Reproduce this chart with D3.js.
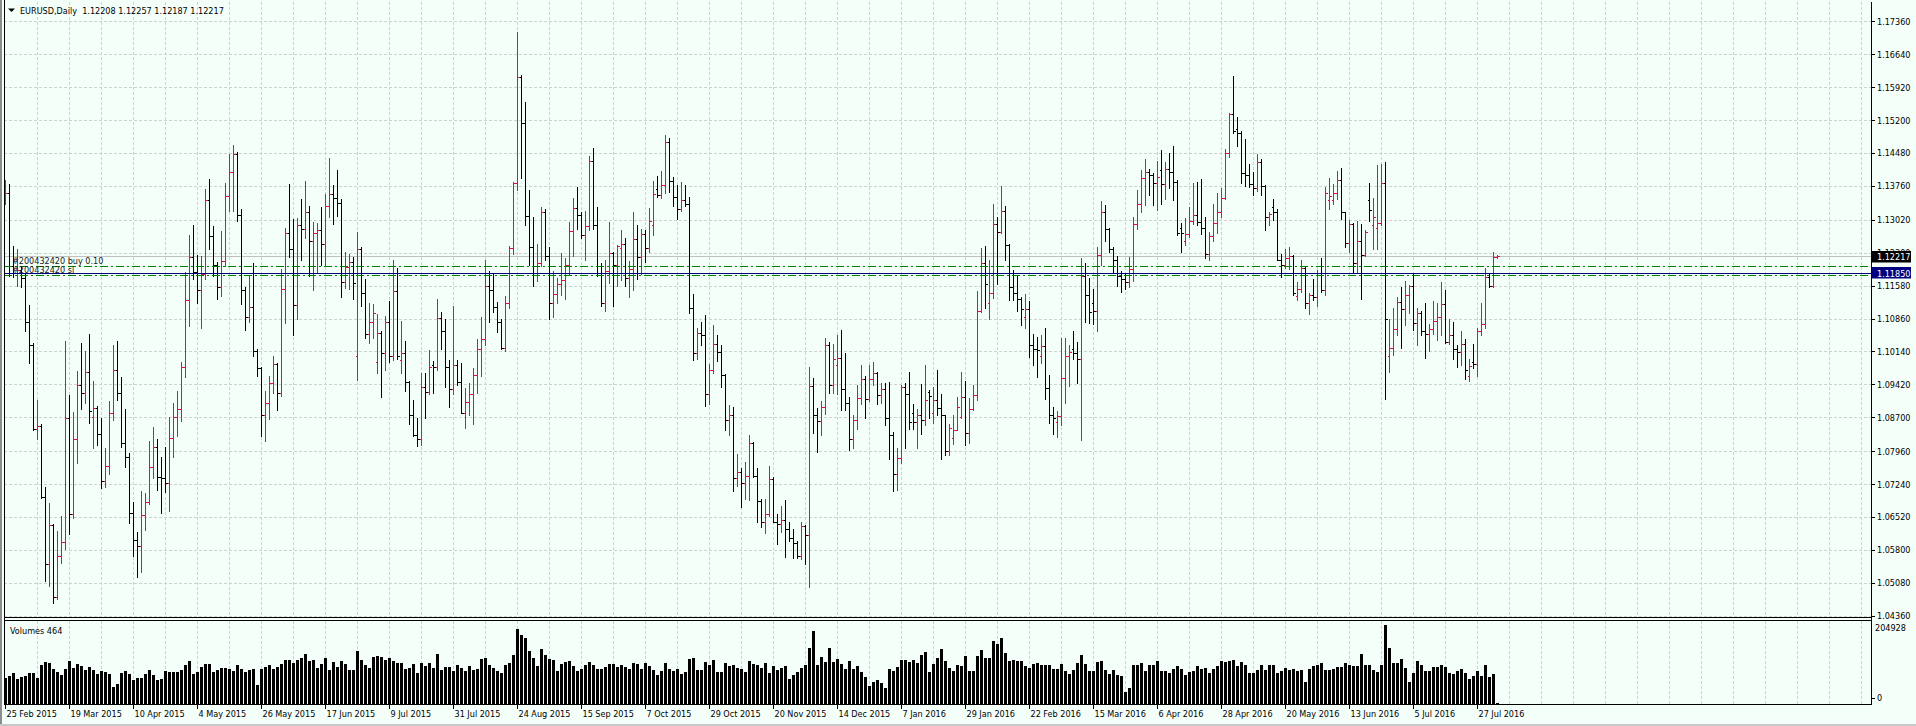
<!DOCTYPE html>
<html>
<head>
<meta charset="utf-8">
<title>EURUSD,Daily</title>
<style>
    html, body { margin: 0; padding: 0; background: #f5fffa; overflow: hidden; }
    svg { display: block; }
    text { font-family: "DejaVu Sans Condensed", "DejaVu Sans", sans-serif; font-stretch: condensed; font-size: 9px; fill: #000; }
</style>
<script src="https://cdn.jsdelivr.net/npm/d3@7"></script>
</head>
<body>
<div id="chart"></div>
<script>
// Daily bars, 25 Feb 2015 .. 3 Aug 2016 (one entry per bar)
var opens = [
    1.1345,1.1360,1.1200,1.1185,1.1192,1.1174,1.1078,1.1028,1.0844,1.0851,
    1.0696,1.0548,1.0634,1.0476,1.0567,1.0598,1.0868,1.0658,1.0822,1.0940,
    1.0924,1.0970,1.0870,1.0890,1.0833,1.0731,1.0763,1.0879,1.0973,1.0922,
    1.0814,1.0782,1.0660,1.0602,1.0589,1.0656,1.0684,1.0762,1.0806,1.0740,
    1.0737,1.0726,1.0824,1.0870,1.0887,1.0979,1.1127,1.1220,1.1188,1.1148,
    1.1183,1.1345,1.1266,1.1204,1.1154,1.1211,1.1354,1.1407,1.1445,1.1312,
    1.1148,1.1089,1.1111,1.1014,1.0977,1.0874,1.0902,1.0945,1.0987,1.0922,
    1.1151,1.1272,1.1239,1.1115,1.1290,1.1282,1.1320,1.1256,1.1272,1.1280,
    1.1249,1.1333,1.1358,1.1350,1.1339,1.1165,1.1199,1.1210,1.1005,1.1237,
    1.1141,1.1053,1.1079,1.0990,1.1055,1.1011,1.1078,1.1003,1.1146,1.0995,
    1.1010,1.0947,1.0874,1.0831,1.0823,1.0936,1.0925,1.0985,1.0979,1.1087,
    1.1058,1.0981,1.0931,1.0984,1.0947,1.0880,1.0904,1.0921,1.0962,1.1019,
    1.1041,1.1156,1.1148,1.1111,1.1079,1.1022,1.1119,1.1240,1.1383,1.1615,
    1.1513,1.1311,1.1242,1.1186,1.1208,1.1318,1.1223,1.1120,1.1140,1.1161,
    1.1170,1.1204,1.1277,1.1328,1.1313,1.1268,1.1288,1.1431,1.1290,1.1186,
    1.1119,1.1190,1.1229,1.1204,1.1240,1.1250,1.1175,1.1194,1.1260,1.1220,
    1.1270,1.1240,1.1290,1.1370,1.1357,1.1378,1.1471,1.1387,1.1352,1.1325,
    1.1345,1.1337,1.1108,1.1010,1.1055,1.1050,1.0921,1.0974,1.1030,1.1012,
    1.0962,1.0864,1.0875,1.0737,1.0751,1.0726,1.0742,1.0814,1.0742,1.0687,
    1.0640,1.0659,1.0735,1.0642,1.0637,1.0645,1.0625,1.0606,1.0596,1.0566,
    1.0632,1.0613,1.0938,1.0874,1.0861,1.0893,1.1027,1.0941,1.0985,1.1000,
    1.0931,1.0902,1.0823,1.0864,1.0912,1.0953,1.0909,1.0953,1.0966,1.0919,
    1.0931,1.0869,1.0831,1.0747,1.0780,1.0936,1.0921,1.0880,1.0859,1.0874,
    1.0864,1.0925,1.0880,1.0907,1.0891,1.0874,1.0797,1.0825,1.0843,1.0870,
    1.0915,1.0836,1.0888,1.0919,1.1103,1.1208,1.1120,1.1141,1.1292,1.1275,
    1.1321,1.1247,1.1155,1.1141,1.1129,1.1090,1.1106,1.1027,1.1020,1.1005,
    1.1025,1.0935,1.0874,1.0860,1.0872,1.0955,1.1003,1.1020,1.1010,1.0998,
    1.1180,1.1137,1.1120,1.1103,1.1225,1.1318,1.1282,1.1237,1.1213,1.1180,
    1.1173,1.1165,1.1194,1.1292,1.1337,1.1393,1.1406,1.1400,1.1383,1.1410,
    1.1380,1.1414,1.1406,1.1385,1.1285,1.1255,1.1270,1.1299,1.1313,1.1297,
    1.1285,1.1227,1.1266,1.1294,1.1320,1.1349,1.1447,1.1533,1.1500,1.1492,
    1.1404,1.1400,1.1380,1.1371,1.1428,1.1376,1.1307,1.1330,1.1318,1.1215,
    1.1204,1.1218,1.1223,1.1135,1.1150,1.1196,1.1119,1.1137,1.1132,1.1186,
    1.1148,1.1345,1.1345,1.1360,1.1390,1.1318,1.1251,1.1292,1.1208,1.1255,
    1.1225,1.1345,1.1290,1.1285,1.1294,1.1383,1.1003,1.1022,1.1062,1.1122,
    1.1106,1.1138,1.1156,1.1076,1.1098,1.1058,1.1053,1.1062,1.1080,1.1089,
    1.1118,1.1035,1.1049,1.1020,1.1012,1.1030,1.0960,1.0990,1.0986,1.1058,
    1.1073,1.1177,1.1157,1.12208
];
var highs = [
    1.1389,1.1380,1.1245,1.1239,1.1200,1.1185,1.1116,1.1032,1.0908,1.0855,
    1.0717,1.0683,1.0637,1.0622,1.0653,1.1037,1.0919,1.0881,1.0971,1.1032,
    1.1015,1.1052,1.0949,1.0895,1.0868,1.0802,1.0906,1.1028,1.1037,1.0957,
    1.0889,1.0791,1.0685,1.0620,1.0709,1.0704,1.0819,1.0849,1.0823,1.0784,
    1.0804,1.0871,1.0901,1.0928,1.0990,1.1187,1.1268,1.1290,1.1225,1.1223,
    1.1369,1.1391,1.1288,1.1210,1.1277,1.1382,1.1445,1.1466,1.1450,1.1325,
    1.1154,1.1180,1.1207,1.1020,1.0979,1.0928,1.0960,1.1005,1.0989,1.1194,
    1.1285,1.1380,1.1304,1.1306,1.1347,1.1387,1.1333,1.1297,1.1294,1.1330,
    1.1358,1.1437,1.1378,1.1411,1.1347,1.1232,1.1227,1.1220,1.1275,1.1242,
    1.1172,1.1120,1.1118,1.1096,1.1058,1.1091,1.1124,1.1215,1.1196,1.1081,
    1.1036,1.0950,1.0907,1.0869,1.0966,1.0966,1.1017,1.0993,1.1129,1.1100,
    1.1084,1.0995,1.1113,1.0995,1.0989,1.0934,1.0944,1.0977,1.1041,1.1089,
    1.1215,1.1189,1.1186,1.1122,1.1085,1.1135,1.1244,1.1385,1.1712,1.1619,
    1.1559,1.1366,1.1309,1.1250,1.1330,1.1325,1.1242,1.1189,1.1175,1.1229,
    1.1218,1.1296,1.1350,1.1374,1.1318,1.1321,1.1441,1.1459,1.1330,1.1208,
    1.1215,1.1296,1.1232,1.1247,1.1280,1.1263,1.1211,1.1320,1.1290,1.1282,
    1.1280,1.1328,1.1387,1.1397,1.1409,1.1488,1.1480,1.1395,1.1378,1.1385,
    1.1378,1.1352,1.1139,1.1065,1.1079,1.1094,1.0986,1.1072,1.1051,1.1029,
    1.0965,1.0896,1.0893,1.0790,1.0759,1.0773,1.0831,1.0816,1.0759,1.0692,
    1.0692,1.0764,1.0740,1.0659,1.0675,1.0689,1.0640,1.0625,1.0600,1.0640,
    1.0635,1.0979,1.0955,1.0890,1.0905,1.1043,1.1035,1.1030,1.1049,1.1060,
    1.1010,1.0915,1.0874,1.0941,1.0984,1.0960,1.0984,1.0991,1.0969,1.0945,
    1.0945,1.0947,1.0838,1.0802,1.0941,1.0945,1.0969,1.0900,1.0888,1.0943,
    1.0984,1.0930,1.0936,1.0974,1.0921,1.0876,1.0855,1.0874,1.0915,1.0969,
    1.0950,1.0912,1.0941,1.1146,1.1240,1.1244,1.1215,1.1337,1.1309,1.1376,
    1.1333,1.1250,1.1191,1.1180,1.1132,1.1139,1.1124,1.1053,1.1046,1.1051,
    1.1065,1.0962,1.0893,1.0883,1.1043,1.1043,1.1027,1.1058,1.1034,1.1218,
    1.1208,1.1175,1.1151,1.1242,1.1342,1.1335,1.1285,1.1242,1.1223,1.1189,
    1.1184,1.1220,1.1307,1.1366,1.1411,1.1435,1.1414,1.1404,1.1431,1.1454,
    1.1428,1.1447,1.1463,1.1390,1.1294,1.1306,1.1330,1.1383,1.1385,1.1392,
    1.1307,1.1275,1.1337,1.1361,1.1371,1.1457,1.1535,1.1617,1.1526,1.1495,
    1.1479,1.1423,1.1406,1.1445,1.1435,1.1378,1.1320,1.1347,1.1325,1.1227,
    1.1237,1.1242,1.1225,1.1165,1.1215,1.1199,1.1141,1.1173,1.1192,1.1218,
    1.1374,1.1393,1.1380,1.1409,1.1416,1.1320,1.1301,1.1294,1.1299,1.1292,
    1.1280,1.1383,1.1349,1.1421,1.1423,1.1428,1.1084,1.1110,1.1134,1.1154,
    1.1168,1.1159,1.1184,1.1108,1.1103,1.1119,1.1075,1.1125,1.1119,1.1165,
    1.1148,1.1084,1.1079,1.1027,1.1058,1.1041,1.0998,1.1030,1.1065,1.1119,
    1.1196,1.1184,1.1232,1.12257
];
var lows = [
    1.1336,1.1178,1.1176,1.1158,1.1154,1.1059,1.0988,1.0842,1.0822,1.0693,
    1.0511,1.0500,1.0463,1.0472,1.0551,1.0581,1.0614,1.0649,1.0769,1.0889,
    1.0901,1.0857,1.0802,1.0809,1.0715,1.0718,1.0747,1.0863,1.0908,1.0804,
    1.0762,1.0638,1.0567,1.0521,1.0532,1.0624,1.0680,1.0737,1.0711,1.0660,
    1.0707,1.0666,1.0784,1.0830,1.0861,1.0958,1.1070,1.1173,1.1119,1.1065,
    1.1172,1.1237,1.1178,1.1129,1.1135,1.1201,1.1321,1.1321,1.1299,1.1118,
    1.1060,1.1079,1.1003,1.0960,1.0829,1.0818,1.0867,1.0924,1.0886,1.0917,
    1.1077,1.1221,1.1049,1.1084,1.1213,1.1261,1.1180,1.1149,1.1186,1.1204,
    1.1204,1.1309,1.1292,1.1311,1.1134,1.1153,1.1151,1.1129,1.0952,1.1113,
    1.1043,1.1032,1.1043,1.0967,1.0915,1.0974,1.0990,1.0995,1.0998,1.0966,
    1.0928,1.0855,1.0829,1.0807,1.0810,1.0869,1.0921,1.0924,1.0974,1.1020,
    1.0936,1.0893,1.0920,1.0941,1.0879,1.0847,1.0874,1.0855,1.0924,1.0960,
    1.1027,1.1079,1.1100,1.1057,1.1020,1.1015,1.1110,1.1227,1.1368,1.1393,
    1.1290,1.1204,1.1156,1.1167,1.1200,1.1215,1.1086,1.1089,1.1120,1.1137,
    1.1129,1.1184,1.1223,1.1282,1.1261,1.1213,1.1280,1.1282,1.1180,1.1113,
    1.1103,1.1163,1.1113,1.1156,1.1170,1.1156,1.1132,1.1148,1.1173,1.1183,
    1.1210,1.1232,1.1268,1.1352,1.1350,1.1361,1.1363,1.1333,1.1304,1.1321,
    1.1331,1.1098,1.0996,1.0998,1.1029,1.0895,1.0900,1.0966,1.0993,1.0936,
    1.0842,1.0831,1.0708,1.0719,1.0673,1.0692,1.0689,1.0740,1.0640,1.0630,
    1.0616,1.0654,1.0640,1.0592,1.0620,1.0565,1.0599,1.0563,1.0563,1.0561,
    1.0549,1.0498,1.0836,1.0794,1.0831,1.0877,1.0924,1.0924,1.0921,1.0886,
    1.0886,1.0799,1.0802,1.0845,1.0900,1.0869,1.0905,1.0941,1.0900,1.0902,
    1.0852,1.0778,1.0708,1.0711,1.0769,1.0802,1.0845,1.0845,1.0802,1.0833,
    1.0852,1.0869,1.0857,1.0874,1.0778,1.0788,1.0788,1.0812,1.0842,1.0869,
    1.0810,1.0814,1.0885,1.0907,1.1100,1.1108,1.1086,1.1130,1.1161,1.1272,
    1.1213,1.1127,1.1127,1.1103,1.1072,1.1065,1.1001,1.0984,1.0957,1.0989,
    1.0909,1.0857,1.0833,1.0826,1.0852,1.0902,1.0938,1.0998,1.0945,1.0821,
    1.1079,1.1077,1.1075,1.1058,1.1204,1.1256,1.1232,1.1186,1.1158,1.1144,
    1.1151,1.1154,1.1167,1.1282,1.1318,1.1335,1.1357,1.1335,1.1323,1.1337,
    1.1347,1.1371,1.1345,1.1268,1.1232,1.1247,1.1265,1.1292,1.1290,1.1270,
    1.1218,1.1215,1.1256,1.1272,1.1307,1.1347,1.1440,1.1492,1.1463,1.1383,
    1.1376,1.1374,1.1357,1.1365,1.1357,1.1280,1.1290,1.1301,1.1213,1.1177,
    1.1196,1.1194,1.1137,1.1127,1.1145,1.1110,1.1096,1.1127,1.1113,1.1144,
    1.1137,1.1326,1.1337,1.1347,1.1304,1.1242,1.1232,1.1186,1.1186,1.1129,
    1.1223,1.1299,1.1237,1.1237,1.1290,1.0909,1.0969,1.1007,1.1049,1.1022,
    1.1072,1.1098,1.1060,1.1029,1.1051,1.1000,1.1014,1.1053,1.1039,1.1051,
    1.1033,1.1030,1.0998,1.0979,1.0984,1.0953,1.0950,1.0977,1.0960,1.1050,
    1.1065,1.1154,1.1154,1.12187
];
var closes = [
    1.1360,1.1200,1.1185,1.1192,1.1174,1.1078,1.1028,1.0844,1.0851,1.0696,
    1.0548,1.0634,1.0476,1.0567,1.0598,1.0868,1.0658,1.0822,1.0940,1.0924,
    1.0970,1.0884,1.0890,1.0833,1.0731,1.0763,1.0879,1.0973,1.0922,1.0814,
    1.0782,1.0660,1.0602,1.0589,1.0656,1.0684,1.0762,1.0806,1.0740,1.0737,
    1.0726,1.0824,1.0870,1.0887,1.0979,1.1127,1.1220,1.1188,1.1148,1.1183,
    1.1345,1.1266,1.1204,1.1154,1.1211,1.1354,1.1407,1.1445,1.1312,1.1148,
    1.1089,1.1111,1.1014,1.0977,1.0874,1.0902,1.0945,1.0987,1.0922,1.1151,
    1.1272,1.1239,1.1115,1.1290,1.1282,1.1320,1.1256,1.1272,1.1280,1.1249,
    1.1333,1.1358,1.1350,1.1339,1.1165,1.1199,1.1210,1.1163,1.1237,1.1141,
    1.1053,1.1079,1.1097,1.1055,1.1011,1.1078,1.1003,1.1146,1.1005,1.1010,
    1.0947,1.0874,1.0831,1.0823,1.0936,1.0925,1.0981,1.0979,1.1087,1.1058,
    1.0981,1.0931,1.0984,1.0947,1.0880,1.0904,1.0921,1.0962,1.1019,1.1041,
    1.1156,1.1148,1.1111,1.1079,1.1022,1.1119,1.1240,1.1383,1.1615,1.1513,
    1.1311,1.1242,1.1186,1.1208,1.1318,1.1223,1.1120,1.1140,1.1161,1.1170,
    1.1204,1.1277,1.1328,1.1313,1.1268,1.1288,1.1431,1.1290,1.1186,1.1119,
    1.1190,1.1229,1.1204,1.1244,1.1250,1.1175,1.1194,1.1260,1.1220,1.1270,
    1.1240,1.1300,1.1358,1.1357,1.1378,1.1471,1.1387,1.1352,1.1325,1.1345,
    1.1337,1.1108,1.1010,1.1055,1.1050,1.0921,1.0974,1.1030,1.1012,1.0962,
    1.0864,1.0875,1.0737,1.0751,1.0726,1.0742,1.0814,1.0742,1.0687,1.0640,
    1.0659,1.0735,1.0642,1.0637,1.0645,1.0625,1.0606,1.0596,1.0566,1.0632,
    1.0613,1.0938,1.0874,1.0861,1.0893,1.1027,1.0941,1.0998,1.1000,1.0931,
    1.0902,1.0823,1.0864,1.0912,1.0953,1.0909,1.0953,1.0966,1.0919,1.0931,
    1.0869,1.0831,1.0747,1.0780,1.0936,1.0921,1.0859,1.0859,1.0874,1.0864,
    1.0907,1.0917,1.0907,1.0891,1.0874,1.0797,1.0847,1.0843,1.0893,1.0915,
    1.0836,1.0888,1.0919,1.1103,1.1208,1.1161,1.1141,1.1292,1.1275,1.1321,
    1.1247,1.1155,1.1141,1.1129,1.1106,1.1106,1.1027,1.1020,1.1017,1.1025,
    1.0935,1.0874,1.0869,1.0872,1.0955,1.1003,1.1012,1.1010,1.0998,1.1180,
    1.1137,1.1100,1.1103,1.1225,1.1318,1.1282,1.1237,1.1213,1.1180,1.1173,
    1.1165,1.1194,1.1292,1.1337,1.1393,1.1406,1.1400,1.1383,1.1395,1.1380,
    1.1414,1.1406,1.1385,1.1272,1.1272,1.1270,1.1299,1.1313,1.1297,1.1285,
    1.1227,1.1266,1.1294,1.1320,1.1349,1.1447,1.1533,1.1495,1.1492,1.1404,
    1.1400,1.1380,1.1371,1.1428,1.1376,1.1307,1.1315,1.1318,1.1215,1.1204,
    1.1218,1.1223,1.1141,1.1150,1.1196,1.1119,1.1137,1.1132,1.1186,1.1148,
    1.1361,1.1355,1.1360,1.1390,1.1318,1.1251,1.1292,1.1208,1.1255,1.1225,
    1.1275,1.1323,1.1309,1.1294,1.1383,1.1086,1.1022,1.1062,1.1122,1.1106,
    1.1138,1.1156,1.1076,1.1098,1.1058,1.1053,1.1062,1.1080,1.1089,1.1118,
    1.1035,1.1049,1.1020,1.1012,1.1030,1.0974,1.0982,1.0986,1.1058,1.1073,
    1.1177,1.1157,1.1221,1.12217
];
// tick volume per bar
var volumes = [
    67100,71400,80100,63600,69700,71400,78400,78400,66200,100100,
    107100,104500,89700,81000,74000,89700,110500,93200,102700,98400,
    87100,94900,86200,76600,83600,81000,75800,42800,50600,80100,
    84500,75800,61000,66200,66200,75800,87100,74000,61900,62700,
    83600,81900,81900,82000,87700,101300,110400,76300,83100,95600,
    103600,103600,83100,87700,93400,93400,89900,85400,101300,89900,
    83100,87700,89900,49000,89900,95600,99000,89900,95600,103600,
    112700,112700,105900,112700,118400,128700,110400,112700,92200,102500,
    119500,87700,108200,94500,110400,102500,87700,87700,137800,113900,
    101300,92200,120000,124000,122000,114000,118000,111000,104700,104700,
    91100,92200,102500,78600,104700,98000,104700,92200,129800,87700,
    94500,94500,85400,99000,92200,85400,96800,87700,91100,116100,
    119500,101300,92200,85400,79700,99000,104700,125200,193500,178700,
    170800,136600,119500,96800,142300,125200,116100,113900,85400,102500,
    108200,111600,96800,85400,88800,99000,108200,99000,91100,91100,
    94500,103600,103600,94500,101300,94500,89900,104700,102500,91100,
    104700,98000,87700,73000,85400,105900,91100,85400,89900,76300,
    82000,115000,118000,87700,87700,109000,101300,113900,83100,83100,
    104700,98000,100000,92200,91100,81000,110000,102000,99000,92000,
    104700,80000,96800,87700,93400,97000,62600,73000,81000,93400,
    99000,144200,187800,99000,120600,107000,144200,107000,115000,103600,
    91100,110400,91100,97000,81000,68300,45000,56000,62000,53000,
    40000,91100,84000,94500,112700,112700,108200,112700,105900,127500,
    133200,83100,102500,119500,142300,110400,93400,85400,101300,96800,
    122900,85400,85400,124100,138900,117300,119500,161700,156000,170800,
    130900,111600,113900,110400,110400,96800,93400,102500,105900,99000,
    99000,99000,91100,88800,102500,85400,76300,87700,104700,127500,
    102500,85400,85400,108200,110400,87700,77500,87700,74000,70600,
    30700,39800,99000,99000,104700,85400,99000,99000,110400,85400,
    85400,79700,91100,96800,91100,74000,80800,85400,96800,88800,
    92200,79700,89900,96800,111600,108200,111600,113900,96800,108200,
    99000,79700,79700,87700,101300,87700,99000,101300,79700,85400,
    92200,87700,89900,85400,87700,56900,89900,96800,99000,104700,
    87700,87700,89900,94500,94500,105900,101300,96800,96800,128700,
    101300,101300,87700,83100,101300,204928,144600,105900,105900,116100,
    93400,56900,79700,111600,99000,85400,85400,94500,94500,101300,
    94500,79700,76300,85400,89900,78600,62600,70600,85400,70600,
    99000,68300,76300,464
];

// right price scale labels and bottom date labels (one every 16 bars)
var priceTicks = ['1.17360','1.16640','1.15920','1.15200','1.14480','1.13760','1.13020',
    '1.12300','1.11580','1.10860','1.10140','1.09420','1.08700','1.07960','1.07240',
    '1.06520','1.05800','1.05080','1.04360'];
var dateLabels = ['25 Feb 2015','19 Mar 2015','10 Apr 2015','4 May 2015','26 May 2015',
    '17 Jun 2015','9 Jul 2015','31 Jul 2015','24 Aug 2015','15 Sep 2015','7 Oct 2015',
    '29 Oct 2015','20 Nov 2015','14 Dec 2015','7 Jan 2016','29 Jan 2016','22 Feb 2016',
    '15 Mar 2016','6 Apr 2016','28 Apr 2016','20 May 2016','13 Jun 2016','5 Jul 2016',
    '27 Jul 2016'];

// horizontal levels
var bidPrice = 1.12217;
var orderPrice = 1.1201;
var stopPrice = 1.1181;
var levelPrice = 1.1185;
var volumeMax = 204928;
var lastVolume = 464;

var W = 1916, H = 726;
var left = 4, right = 1871;
var mainTop = 2, mainBottom = 617.5, volTop = 620.5, volBottom = 704.5;
var upColor = '#dc143c', downColor = '#000000';

var n = closes.length;
var idx = d3.range(n);

var x = d3.scaleLinear().domain([0, n - 1]).range([5.5, 5.5 + 4 * (n - 1)]);
var y = d3.scaleLinear().domain([1.0436, 1.1736]).range([615.7, 21.3]);
var vy = d3.scaleLinear().domain([0, volumeMax]).range([703.5, 624.8]);

var svg = d3.select('#chart').append('svg')
    .attr('width', W)
    .attr('height', H);

svg.append('rect')
    .attr('width', W)
    .attr('height', H)
    .attr('fill', '#f5fffa');

// grid
var grid = svg.append('g')
    .attr('stroke', '#d0d0d0')
    .attr('stroke-dasharray', '3,2')
    .attr('shape-rendering', 'crispEdges');

var gridIdx = d3.range(8, 600, 8).filter(function(i) { return x(i) < right; });

grid.selectAll('.vgrid-main')
    .data(gridIdx)
    .enter()
    .append('line')
    .attr('x1', function(i) { return x(i); })
    .attr('x2', function(i) { return x(i); })
    .attr('y1', mainTop)
    .attr('y2', mainBottom);

grid.selectAll('.vgrid-vol')
    .data(gridIdx)
    .enter()
    .append('line')
    .attr('x1', function(i) { return x(i); })
    .attr('x2', function(i) { return x(i); })
    .attr('y1', volTop)
    .attr('y2', volBottom);

grid.selectAll('.hgrid')
    .data(priceTicks)
    .enter()
    .append('line')
    .attr('x1', left)
    .attr('x2', right)
    .attr('y1', function(d) { return Math.round(y(+d)) + 0.5; })
    .attr('y2', function(d) { return Math.round(y(+d)) + 0.5; });

// bid line
svg.append('line')
    .attr('x1', left).attr('x2', right)
    .attr('y1', Math.round(y(bidPrice)) + 0.5)
    .attr('y2', Math.round(y(bidPrice)) + 0.5)
    .attr('stroke', '#c0c0c0')
    .attr('shape-rendering', 'crispEdges');

// OHLC bars
function barColor(i) {
    return closes[i] > opens[i] ? upColor : downColor;
}

var bars = svg.append('g').attr('shape-rendering', 'crispEdges');

bars.selectAll('.hl')
    .data(idx)
    .enter()
    .append('line')
    .attr('x1', function(i) { return x(i); })
    .attr('x2', function(i) { return x(i); })
    .attr('y1', function(i) { return Math.round(y(highs[i])); })
    .attr('y2', function(i) { return Math.round(y(lows[i])) + 1; })
    .attr('stroke', barColor);

bars.selectAll('.op')
    .data(idx)
    .enter()
    .append('rect')
    .attr('x', function(i) { return x(i) - 1.5; })
    .attr('y', function(i) { return Math.round(y(opens[i])); })
    .attr('width', 1)
    .attr('height', 1)
    .attr('fill', barColor);

bars.selectAll('.cl')
    .data(idx)
    .enter()
    .append('rect')
    .attr('x', function(i) { return x(i) + 0.5; })
    .attr('y', function(i) { return Math.round(y(closes[i])); })
    .attr('width', 2)
    .attr('height', 1)
    .attr('fill', barColor);

// volumes
svg.append('g')
    .attr('shape-rendering', 'crispEdges')
    .selectAll('rect')
    .data(idx)
    .enter()
    .append('rect')
    .attr('x', function(i) { return x(i) - 1.5; })
    .attr('y', function(i) { return vy(volumes[i]); })
    .attr('width', 3)
    .attr('height', function(i) { return Math.max(0.6, vy(0) - vy(volumes[i])); })
    .attr('fill', '#000');

// order lines and labels
function levelLine(price, color, dash) {
    svg.append('line')
        .attr('x1', left).attr('x2', right)
        .attr('y1', Math.round(y(price)) + 0.5)
        .attr('y2', Math.round(y(price)) + 0.5)
        .attr('stroke', color)
        .attr('stroke-dasharray', dash)
        .attr('shape-rendering', 'crispEdges');
}
levelLine(orderPrice, '#008000', '8,3,2,3');
levelLine(stopPrice, '#008000', '8,3,2,3');
levelLine(levelPrice, '#000080', null);

svg.append('text')
    .attr('x', 12)
    .attr('y', y(orderPrice) - 2)
    .style('fill', '#202020')
    .text('#200432420 buy 0.10');
svg.append('text')
    .attr('x', 12)
    .attr('y', y(stopPrice) - 2)
    .style('fill', '#202020')
    .text('#200432420 sl');

// frame
var frame = svg.append('g')
    .attr('stroke', '#000')
    .attr('shape-rendering', 'crispEdges');
frame.append('line').attr('x1', left + 0.5).attr('x2', left + 0.5).attr('y1', 0).attr('y2', volBottom);
frame.append('line').attr('x1', right + 0.5).attr('x2', right + 0.5).attr('y1', mainTop).attr('y2', volBottom);
frame.append('line').attr('x1', left).attr('x2', right).attr('y1', mainBottom).attr('y2', mainBottom);
frame.append('line').attr('x1', left).attr('x2', right).attr('y1', volTop).attr('y2', volTop);
frame.append('line').attr('x1', left).attr('x2', right + 1).attr('y1', volBottom).attr('y2', volBottom);

svg.append('rect')
    .attr('x', 0).attr('y', 0)
    .attr('width', 2).attr('height', H)
    .attr('fill', '#8c8c8c');
svg.append('rect')
    .attr('x', 0).attr('y', H - 2)
    .attr('width', W).attr('height', 2)
    .attr('fill', '#c8c8c8');

// price scale
var axis = svg.append('g');
axis.selectAll('.ptick')
    .data(priceTicks)
    .enter()
    .append('line')
    .attr('x1', right).attr('x2', right + 4)
    .attr('y1', function(d) { return Math.round(y(+d)) + 0.5; })
    .attr('y2', function(d) { return Math.round(y(+d)) + 0.5; })
    .attr('stroke', '#000')
    .attr('shape-rendering', 'crispEdges');
axis.selectAll('.plabel')
    .data(priceTicks)
    .enter()
    .append('text')
    .attr('x', right + 6)
    .attr('y', function(d) { return y(+d) + 3.5; })
    .text(function(d) { return d; });

// price boxes on the scale
function priceBox(price, fill) {
    var cy = y(price);
    svg.append('rect')
        .attr('x', right + 1)
        .attr('y', Math.round(cy - 5.8))
        .attr('width', 39)
        .attr('height', 11.5)
        .attr('fill', fill);
    svg.append('text')
        .attr('x', right + 6)
        .attr('y', cy + 3.5)
        .style('fill', '#fff')
        .text(price.toFixed(5));
}
priceBox(bidPrice, '#000');
priceBox(levelPrice, '#000080');

// volume scale
svg.append('text').attr('x', right + 4).attr('y', vy(volumeMax) + 6.5).text(String(volumeMax));
svg.append('text').attr('x', right + 6).attr('y', vy(0) - 2.5).text('0');
svg.append('line')
    .attr('x1', right).attr('x2', right + 4)
    .attr('y1', Math.round(vy(0)) - 5.5).attr('y2', Math.round(vy(0)) - 5.5)
    .attr('stroke', '#000')
    .attr('shape-rendering', 'crispEdges');

// date scale
var dates = svg.append('g');
dates.selectAll('.dtick')
    .data(dateLabels)
    .enter()
    .append('line')
    .attr('x1', function(d, k) { return x(k * 16); })
    .attr('x2', function(d, k) { return x(k * 16); })
    .attr('y1', volBottom)
    .attr('y2', volBottom + 4)
    .attr('stroke', '#000')
    .attr('shape-rendering', 'crispEdges');
dates.selectAll('.dlabel')
    .data(dateLabels)
    .enter()
    .append('text')
    .attr('x', function(d, k) { return x(k * 16) + 1; })
    .attr('y', 717)
    .text(function(d) { return d; });

// titles
svg.append('path')
    .attr('d', 'M8,8.5 L15,8.5 L11.5,12 Z')
    .attr('fill', '#000');
svg.append('text')
    .attr('x', 20)
    .attr('y', 14)
    .text('EURUSD,Daily  ' + opens[n - 1].toFixed(5) + ' ' + highs[n - 1].toFixed(5) + ' ' +
        lows[n - 1].toFixed(5) + ' ' + closes[n - 1].toFixed(5))
    .attr('xml:space', 'preserve');
svg.append('text')
    .attr('x', 10)
    .attr('y', 633.5)
    .text('Volumes ' + lastVolume);
</script>
</body>
</html>
